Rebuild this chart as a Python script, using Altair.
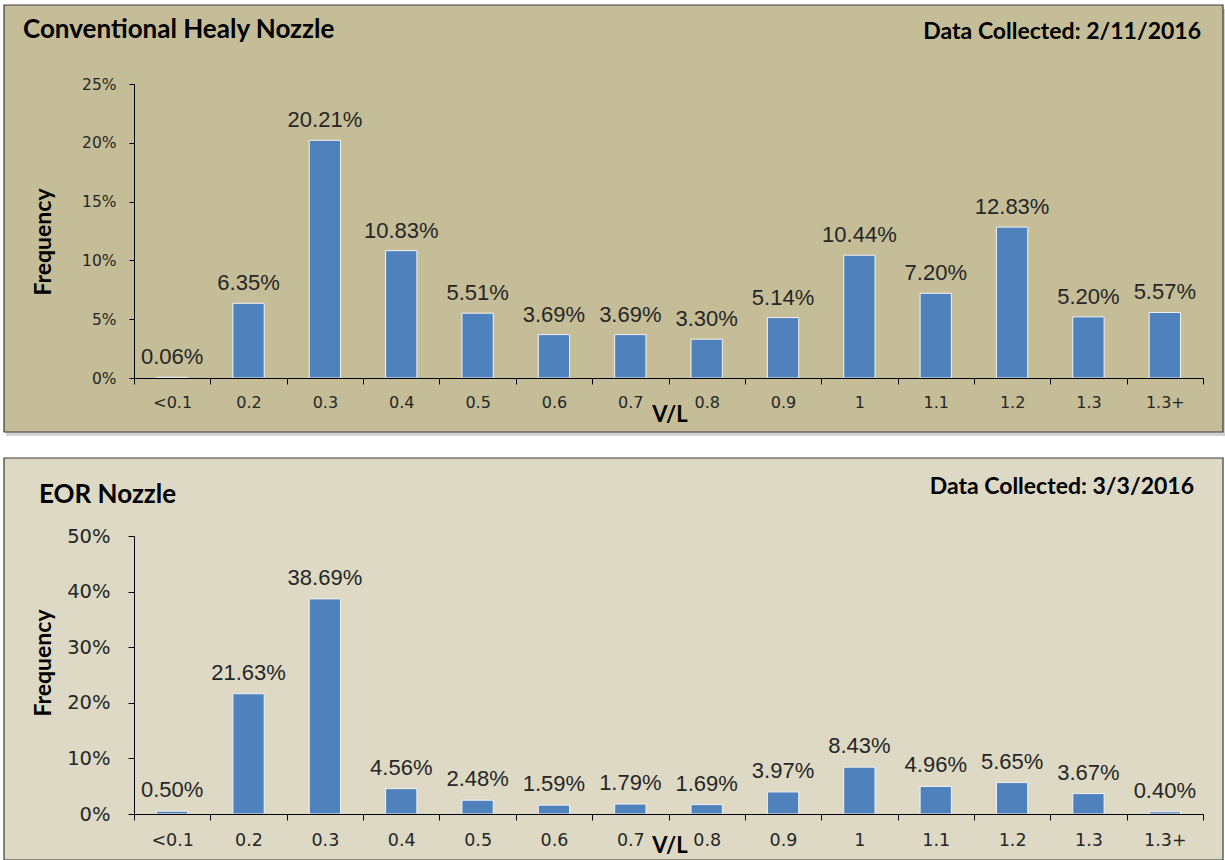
import altair as alt
import pandas as pd

categories = ["<0.1", "0.2", "0.3", "0.4", "0.5", "0.6", "0.7", "0.8", "0.9", "1", "1.1", "1.2", "1.3", "1.3+"]
healy_pct = [0.06, 6.35, 20.21, 10.83, 5.51, 3.69, 3.69, 3.30, 5.14, 10.44, 7.20, 12.83, 5.20, 5.57]
eor_pct = [0.50, 21.63, 38.69, 4.56, 2.48, 1.59, 1.79, 1.69, 3.97, 8.43, 4.96, 5.65, 3.67, 0.40]

top_ticks = [0, 5, 10, 15, 20, 25]
bot_ticks = [0, 10, 20, 30, 40, 50]

TOP_TITLE = "Conventional Healy Nozzle"
TOP_DATE = "Data Collected: 2/11/2016"
BOT_TITLE = "EOR Nozzle"
BOT_DATE = "Data Collected: 3/3/2016"
Y_TITLE = "Frequency"
X_TITLE = "V/L"

BAR = "#4F81BD"
W = 1069
TITLE_FONT = "Lato"
TICK_FONT = "DejaVu Sans"
LABEL_FONT = "Liberation Sans"


def one(txt):
    return pd.DataFrame({"t": [txt]})


def panel(values, ticks, h, bg, title, date, p):
    df = pd.DataFrame({"vl": categories, "pct": values,
                       "label": [f"{v:.2f}%" for v in values]})
    xenc = alt.X("vl:N", sort=categories,
                 scale=alt.Scale(paddingInner=0, paddingOuter=0),
                 axis=alt.Axis(title=None, labelAngle=0, tickBand="extent", zindex=2,
                               domainColor="black", tickColor="black", tickSize=6,
                               labelFont=TICK_FONT, labelFontSize=p["xfs"],
                               labelColor="#262626", labelPadding=p["xpad"], grid=False))
    yenc = alt.Y("pct:Q", scale=alt.Scale(domain=[ticks[0], ticks[-1]], nice=False),
                 axis=alt.Axis(title=None, values=ticks, labelExpr="datum.value + '%'", zindex=2,
                               domainColor="black", tickColor="black", tickSize=p["ytick"],
                               labelFont=TICK_FONT, labelFontSize=p["yfs"],
                               labelColor="#262626", labelPadding=p["ypad"], grid=False))

    layers = []
    if p.get("shadow"):
        layers.append(alt.Chart(one("s")).mark_rect(fill="#7f7f7f", opacity=0.35).encode(
            x=alt.value(p["rx"] + 2), x2=alt.value(p["rx2"] + 2),
            y=alt.value(p["ry"] + 4), y2=alt.value(p["ry2"] + 4)))
    layers.append(alt.Chart(one("bg")).mark_rect(fill=bg, stroke="#3a3a3a", strokeWidth=1.2).encode(
        x=alt.value(p["rx"]), x2=alt.value(p["rx2"]),
        y=alt.value(p["ry"]), y2=alt.value(p["ry2"])))
    base = alt.Chart(df)
    layers.append(base.mark_bar(color=BAR, stroke="#F2F2F2", strokeWidth=1,
                                width=alt.RelativeBandSize(0.41)).encode(x=xenc, y=yenc))
    layers.append(base.mark_text(font=LABEL_FONT, fontSize=22, color="#262626",
                                 baseline="middle", dy=p["ldy"]).encode(
        x=xenc, y=yenc, text="label:N"))
    layers.append(alt.Chart(one(title)).mark_text(font=TITLE_FONT, fontWeight="bold",
                                                   fontSize=p["tfs"], align="left",
                                                   baseline="middle", color="black").encode(
        x=alt.value(p["tx"]), y=alt.value(p["ty"]), text="t:N"))
    layers.append(alt.Chart(one(date)).mark_text(font=TITLE_FONT, fontWeight="bold",
                                                  fontSize=p["dfs"], align="right",
                                                  baseline="middle", color="black").encode(
        x=alt.value(p["dx"]), y=alt.value(p["dyy"]), text="t:N"))
    layers.append(alt.Chart(one(Y_TITLE)).mark_text(font=TITLE_FONT, fontWeight="bold",
                                                     fontSize=23, angle=270, align="center",
                                                     baseline="middle", color="black").encode(
        x=alt.value(-90), y=alt.value(p["fy"]), text="t:N"))
    layers.append(alt.Chart(one(X_TITLE)).mark_text(font=TITLE_FONT, fontWeight="bold",
                                                     fontSize=22, align="center",
                                                     baseline="middle", color="black").encode(
        x=alt.value(536), y=alt.value(h + p["vy"]), text="t:N"))
    return alt.layer(*layers).properties(width=W, height=h)


top = panel(healy_pct, top_ticks, 294, "#C4BD97", TOP_TITLE, TOP_DATE, dict(
    xfs=16, xpad=10, yfs=15.5, ypad=13, ytick=5, ldy=-20,
    rx=-130, rx2=1089, ry=-79, ry2=348,
    tx=-111, ty=-54, tfs=26, dx=1067, dyy=-52, dfs=23, fy=158, vy=37, shadow=True))

bot = panel(eor_pct, bot_ticks, 278, "#DDD9C4", BOT_TITLE, BOT_DATE, dict(
    xfs=17.5, xpad=11, yfs=19.5, ypad=18, ytick=6, ldy=-21,
    rx=-130, rx2=1089, ry=-78, ry2=324,
    tx=-95, ty=-41, tfs=26, dx=1060, dyy=-49, dfs=23, fy=127, vy=32, shadow=False))

chart = alt.vconcat(top, bot, spacing=21).properties(
    padding={"left": 3, "top": 4, "right": 0, "bottom": 0},
    background="white",
).configure_view(stroke=None)

chart.save("out.html", embed_options={"renderer": "svg", "actions": False})
